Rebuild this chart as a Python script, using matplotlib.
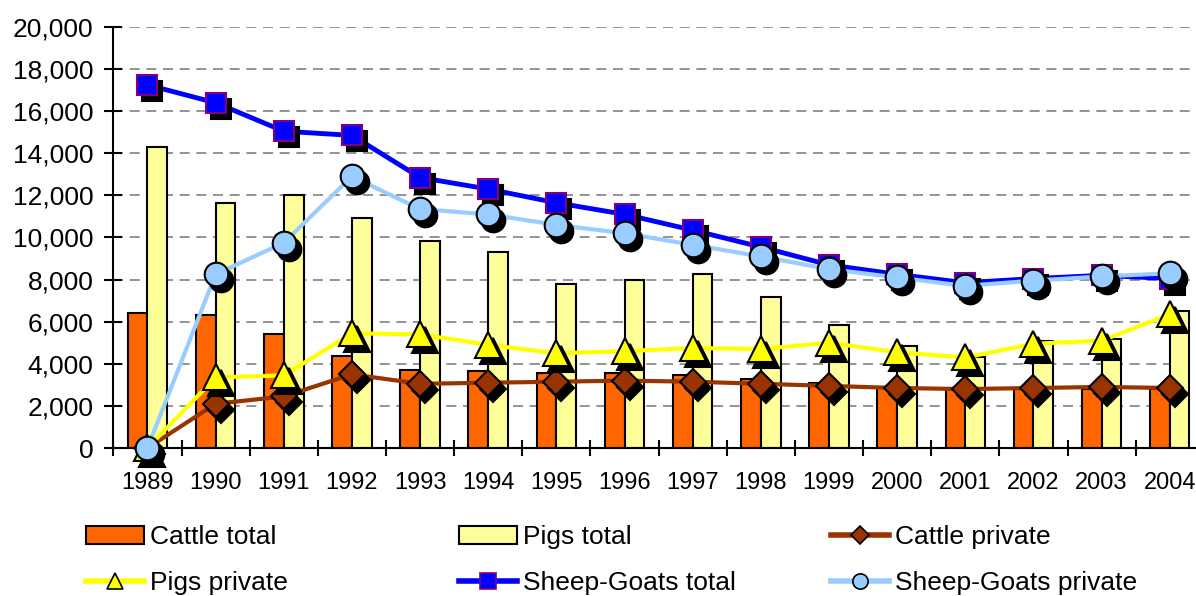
import numpy as np
import matplotlib
matplotlib.use("Agg")
import matplotlib.pyplot as plt
from matplotlib.lines import Line2D
from matplotlib.patches import Patch
from matplotlib.transforms import offset_copy
from matplotlib.ticker import FuncFormatter

plt.rcParams['font.family'] = ['Liberation Sans', 'DejaVu Sans']
plt.rcParams['font.size'] = 19

# data
years = ['1989', '1990', '1991', '1992', '1993', '1994', '1995', '1996',
         '1997', '1998', '1999', '2000', '2001', '2002', '2003', '2004']
cattle_total = [6400, 6300, 5400, 4350, 3700, 3650, 3550, 3550,
                3450, 3300, 3100, 2850, 2800, 2800, 2800, 2800]
pigs_total = [14300, 11650, 12000, 10950, 9850, 9300, 7800, 8000,
              8250, 7150, 5850, 4850, 4300, 5100, 5200, 6500]
cattle_private = [0, 2100, 2450, 3500, 3050, 3100, 3150, 3200,
                  3150, 3050, 2950, 2850, 2800, 2850, 2900, 2850]
pigs_private = [0, 3350, 3450, 5450, 5400, 4900, 4500, 4600,
                4750, 4700, 5000, 4550, 4300, 4950, 5100, 6350]
sheep_total = [17250, 16400, 15050, 14850, 12850, 12300, 11650, 11100,
               10350, 9550, 8700, 8250, 7850, 8050, 8200, 8050]
sheep_private = [0, 8250, 9750, 12900, 11350, 11100, 10600, 10200,
                 9650, 9100, 8500, 8100, 7700, 7950, 8150, 8300]

x = np.arange(len(years))
barw = 0.29

fig = plt.figure(figsize=(11.96, 5.96), dpi=100)
ax = fig.add_axes([113.4/1196, 148/596, 1090.4/1196, 421/596])

ax.bar(x - barw/2, cattle_total, barw, color='#FF6600', edgecolor='black', lw=1.5, zorder=2)
ax.bar(x + barw/2, pigs_total, barw, color='#FFFF99', edgecolor='black', lw=1.5, zorder=2)

shadow = offset_copy(ax.transData, fig=fig, x=5, y=-6, units='dots')

series = [
    (cattle_private, '#993300', 'D', 13, '#993300', 'black', 3.0),
    (pigs_private, '#FFFF00', '^', 18.5, '#FFFF00', 'black', 3.0),
    (sheep_total, '#0000FF', 's', 14.5, '#0000FF', '#800080', 3.5),
    (sheep_private, '#99CCFF', 'o', 17, '#99CCFF', 'black', 3.0),
]
z = 3
for vals, col, mk, ms, fc, ec, lw in series:
    ax.plot(x, vals, color=col, lw=lw, zorder=z, clip_on=False)
    ax.plot(x, vals, ls='none', marker=mk, ms=ms, mfc='black', mec='black',
            mew=1.5, transform=shadow, zorder=z + 0.1, clip_on=False)
    ax.plot(x, vals, ls='none', marker=mk, ms=ms, mfc=fc, mec=ec,
            mew=1.5, zorder=z + 0.2, clip_on=False)
    z += 1

ax.set_xlim(-0.5, 15.5)
ax.set_ylim(0, 20000)
ax.set_yticks(np.arange(0, 20001, 2000))
ax.yaxis.set_major_formatter(FuncFormatter(lambda v, p: '{:,.0f}'.format(v)))
ax.set_xticks(np.arange(-0.5, 16, 1))
ax.set_xticklabels([])
ax.set_xticks(x, labels=years, minor=True, fontsize=17)
ax.tick_params(axis='y', direction='inout', length=13, width=1.5, pad=8.0)
ax.tick_params(axis='x', which='major', direction='inout', length=12, width=1.5)
ax.tick_params(axis='x', which='minor', length=0, pad=17)

ax.yaxis.grid(True, ls=(0, (6, 4)), color='#808080', lw=1.2)
ax.set_axisbelow(True)
for s in ['top', 'right']:
    ax.spines[s].set_visible(False)
for s in ['left', 'bottom']:
    ax.spines[s].set_linewidth(1.5)
    ax.spines[s].set_zorder(2.5)

# legend, three columns placed separately
h_cattle = Patch(facecolor='#FF6600', edgecolor='black', lw=1.5)
h_pigs = Patch(facecolor='#FFFF99', edgecolor='black', lw=1.5)
h_cp = Line2D([], [], color='#993300', lw=4, marker='D', ms=9, mfc='#993300', mec='black', mew=1.2)
h_pp = Line2D([], [], color='#FFFF00', lw=4, marker='^', ms=11, mfc='#FFFF00', mec='black', mew=1.2)
h_st = Line2D([], [], color='#0000FF', lw=4, marker='s', ms=11, mfc='#0000FF', mec='#800080', mew=1.2)
h_sp = Line2D([], [], color='#99CCFF', lw=4, marker='o', ms=11, mfc='#99CCFF', mec='black', mew=1.2)

cols = [
    ([h_cattle, h_pp], ['Cattle total', 'Pigs private'], 86),
    ([h_pigs, h_st], ['Pigs total', 'Sheep-Goats total'], 459),
    ([h_cp, h_sp], ['Cattle private', 'Sheep-Goats private'], 831),
]
for hs, ls, px in cols:
    leg = fig.legend(hs, ls, loc='center left', bbox_to_anchor=(px/1196, 1 - 560/596),
                     frameon=False, borderpad=0, borderaxespad=0, handlelength=2.2,
                     handletextpad=0.22, labelspacing=0.82, fontsize=19)

fig.savefig('out.png', dpi=100)
